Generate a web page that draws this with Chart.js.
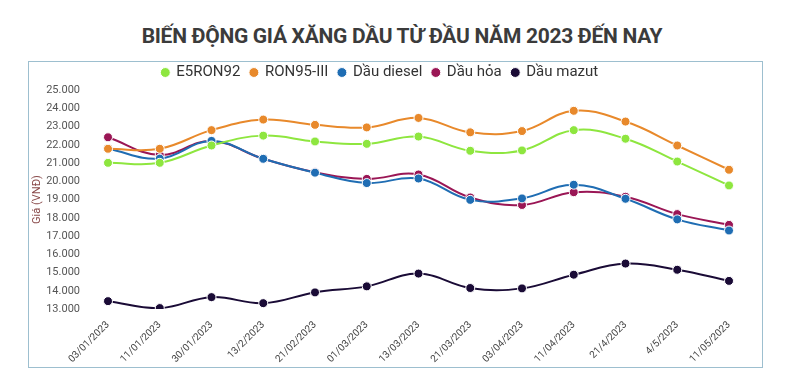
<!DOCTYPE html>
<html>
<head>
<meta charset="utf-8">
<script src="https://cdn.jsdelivr.net/npm/chart.js@4"></script>
<style>
  body { margin: 0; background: #fff; width: 790px; height: 377px; overflow: hidden; font-family: Roboto, sans-serif; }
  h1 { position: absolute; left: 7px; top: 24px; width: 790px; margin: 0; text-align: center; font-size: 21px; font-weight: bold; color: #3b3b3b; letter-spacing: -0.3px; }
  .khung { position: absolute; left: 28px; top: 61px; width: 733px; height: 305px; border: 1px solid #9dbfcf; }
  #myChart { position: absolute; left: 29px; top: 55px; }
</style>
</head>
<body>
<h1>BIẾN ĐỘNG GIÁ XĂNG DẦU TỪ ĐẦU NĂM 2023 ĐẾN NAY</h1>
<div class="khung"></div>
<canvas id="myChart" width="733" height="311"></canvas>
<script>
const ngay = ["03/01/2023", "11/01/2023", "30/01/2023", "13/2/2023", "21/02/2023", "01/03/2023", "13/03/2023",
  "21/03/2023", "03/04/2023", "11/04/2023", "21/4/2023", "4/5/2023", "11/05/2023"];
const e5ron92 = [21010, 21010, 21960, 22500, 22180, 22050, 22450, 21670, 21690, 22800, 22330, 21080, 19770];
const ron95 = [21780, 21780, 22800, 23380, 23090, 22950, 23470, 22680, 22750, 23860, 23270, 21960, 20630];
const diesel = [21780, 21240, 22210, 21230, 20470, 19900, 20150, 18980, 19060, 19810, 19040, 17910, 17300];
const dauHoa = [22410, 21440, 22210, 21230, 20490, 20130, 20370, 19110, 18700, 19400, 19150, 18200, 17610];
const mazut = [13430, 13050, 13650, 13320, 13910, 14240, 14940, 14150, 14130, 14880, 15490, 15150, 14540];
const yTicks = [13000, 14000, 15000, 16000, 17000, 18000, 19000, 20000, 21000, 22000, 23000, 24000, 25000];

function dinhDang(v) {
  return String(v).replace(/\B(?=(\d{3})+(?!\d))/g, ".");
}

function duong(ten, data, mau) {
  return {
    label: ten,
    data: data,
    borderColor: mau,
    backgroundColor: mau,
    borderWidth: 2,
    pointRadius: 4.5,
    pointHoverRadius: 5,
    pointBorderColor: "#fff",
    pointBorderWidth: 1,
    tension: 0.4,
    fill: false,
  };
}

const ctx = document.getElementById("myChart").getContext("2d");
const myChart = new Chart(ctx, {
  type: "line",
  data: {
    labels: ngay,
    datasets: [
      duong("E5RON92", e5ron92, "#8ee63f"),
      duong("RON95-III", ron95, "#e8892b"),
      duong("Dầu diesel", diesel, "#1f6db3"),
      duong("Dầu hỏa", dauHoa, "#9a1655"),
      duong("Dầu mazut", mazut, "#1a0b36"),
    ],
  },
  options: {
    responsive: false,
    animation: false,
    layout: { padding: { top: 0, right: 33, bottom: 0, left: 2 } },
    plugins: {
      legend: {
        position: "top",
        labels: {
          usePointStyle: true,
          pointStyle: "circle",
          boxWidth: 7,
          boxHeight: 7,
          padding: 10,
          color: "#333",
          font: { family: "Roboto", size: 15 },
        },
      },
      tooltip: { enabled: false },
    },
    scales: {
      x: {
        offset: false,
        grid: { display: false, drawTicks: false },
        border: { display: false },
        afterFit: (axis) => { axis.height = 57; },
        ticks: {
          color: "#444",
          font: { family: "Roboto", size: 10 },
          maxRotation: 45,
          minRotation: 45,
          padding: 10,
          autoSkip: false,
        },
      },
      y: {
        min: yTicks[0],
        max: yTicks[yTicks.length - 1],
        afterBuildTicks: (axis) => { axis.ticks = yTicks.map(v => ({ value: v })); },
        afterFit: (axis) => { axis.width = 77; },
        grid: { display: false, drawTicks: false },
        border: { display: false },
        title: {
          display: true,
          text: "Giá (VNĐ)",
          color: "#8a4b4b",
          font: { family: "Roboto", size: 11 },
          padding: { top: 0, bottom: 6 },
        },
        ticks: {
          color: "#555",
          font: { family: "Roboto", size: 11 },
          padding: 28,
          autoSkip: false,
          callback: (v) => dinhDang(v),
        },
      },
    },
  },
});
</script>
</body>
</html>
